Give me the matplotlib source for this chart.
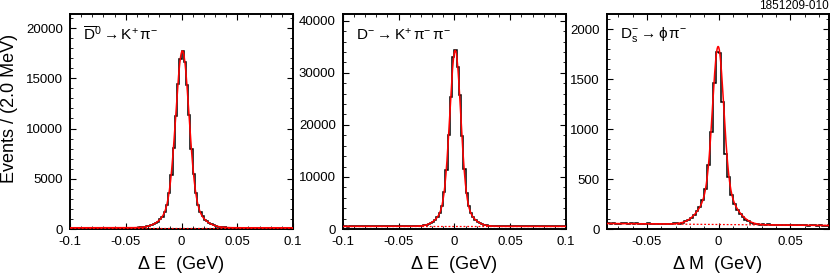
import numpy as np
import matplotlib
matplotlib.use("Agg")
import matplotlib.pyplot as plt
from matplotlib.ticker import MultipleLocator, FixedLocator, FixedFormatter

plt.rcParams['font.family'] = ['Liberation Sans', 'DejaVu Sans']
plt.rcParams['mathtext.fontset'] = 'custom'
plt.rcParams['mathtext.rm'] = 'Liberation Sans'
plt.rcParams['mathtext.it'] = 'Liberation Sans:italic'
plt.rcParams['mathtext.sf'] = 'Liberation Sans'
plt.rcParams['mathtext.fallback'] = 'stixsans'
plt.rcParams['axes.unicode_minus'] = False

# ---------------- data ----------------
# Panel 1: D0bar -> K+ pi-, Delta E, 2 MeV bins from -0.1 to 0.1
d0_range = [-0.1, 0.1]
d0_counts = [118, 125, 112, 130, 121, 127, 115, 124, 132, 119, 126, 121, 129, 117, 128,
             123, 131, 120, 126, 134, 122, 129, 127, 133, 125, 131, 128, 136, 130,
             138, 146, 152, 181, 199, 252, 296, 384, 465, 604, 741, 968, 1228, 1690,
             2370, 3610, 5400, 8110, 11200, 14480, 16950, 17700, 16600, 14300, 11350,
             7980, 5500, 3540, 2420, 1650, 1255, 940, 760, 588, 478, 369, 306, 240,
             209, 172, 158, 140, 137,
             128, 124, 131, 122, 127, 119, 126, 123, 129, 118, 125, 121, 127, 116,
             124, 120, 126, 117, 122, 119, 125, 114, 121, 118, 123, 116, 120, 117]
# fit parameters: mean, amp1, sigma1, amp2, sigma2, background at centre, bg slope
d0_fit = [0.0008, 15000, 0.0058, 2600, 0.013, 125, 0.0]

# Panel 2: D- -> K+ pi- pi-, Delta E, 2 MeV bins from -0.1 to 0.1
dp_range = [-0.1, 0.1]
dp_counts = [492, 515, 478, 508, 521, 497, 486, 512, 503, 489, 524, 498, 511, 482, 507,
             519, 494, 502, 516, 488, 509, 497, 521, 505, 493, 514, 501, 526, 508,
             512, 498, 521, 517, 548, 563, 624, 679, 806, 931, 1168, 1409, 1802, 2260,
             3080, 4390, 7040, 11350, 18050, 25300, 33100, 34300, 31200, 25650, 17800,
             11510, 6930, 4460, 3010, 2300, 1770, 1438, 1141, 952, 787, 695, 610, 576,
             534, 527, 506, 511, 499,
             504, 491, 513, 487, 508, 496, 519, 483, 502, 510, 489, 515, 495, 506,
             481, 498, 512, 490, 503, 485, 509, 494, 500, 488, 506, 492, 497, 484]
dp_fit = [0.0008, 29000, 0.0048, 4800, 0.011, 505, 0.0]

# Panel 3: Ds- -> phi pi-, Delta M, 2 MeV bins from -0.078 to 0.078
ds_range = [-0.078, 0.078]
ds_counts = [58, 54, 61, 55, 52, 59, 56, 50, 57, 53, 60, 51, 55, 49, 56, 52, 47, 54, 50,
             53, 48, 55, 51, 57, 60, 52,
             64, 77, 90, 112, 140, 176, 222, 290, 405, 640, 975, 1460, 1770, 1765,
             1270, 755, 520, 345, 248, 186, 150, 118, 95, 76, 63, 55,
             49, 44, 47, 41, 46, 43, 39, 45, 42, 38, 44, 40, 37, 43, 39, 36, 41, 38,
             34, 40, 37, 33, 39, 35, 32, 36]
ds_fit = [-0.0003, 1400, 0.0038, 380, 0.010, 45, -128.0]

panels = [
    dict(counts=d0_counts, rng=d0_range, fit=d0_fit,
         xlim=(-0.1, 0.1), ylim=(0, 21400),
         xticks=[-0.1, -0.05, 0, 0.05, 0.1], xlabels=['-0.1', '-0.05', '0', '0.05', '0.1'],
         yticks=[0, 5000, 10000, 15000, 20000], yminor=1000,
         title=r'$\overline{\mathrm{D}}^{0}\rightarrow\mathrm{K}^{+}\,\mathrm{π}^{-}$',
         xlabel='Δ E  (GeV)'),
    dict(counts=dp_counts, rng=dp_range, fit=dp_fit,
         xlim=(-0.1, 0.1), ylim=(0, 41300),
         xticks=[-0.1, -0.05, 0, 0.05, 0.1], xlabels=['-0.1', '-0.05', '0', '0.05', '0.1'],
         yticks=[0, 10000, 20000, 30000, 40000], yminor=2000,
         title=r'$\mathrm{D}^{-}\rightarrow\mathrm{K}^{+}\,\mathrm{π}^{-}\,\mathrm{π}^{-}$',
         xlabel='Δ E  (GeV)'),
    dict(counts=ds_counts, rng=ds_range, fit=ds_fit,
         xlim=(-0.078, 0.077), ylim=(0, 2150),
         xticks=[-0.05, 0, 0.05], xlabels=['-0.05', '0', '0.05'],
         yticks=[0, 500, 1000, 1500, 2000], yminor=100,
         title=r'$\mathrm{D}_{\mathrm{s}}^{-}\rightarrow\mathrm{ϕ}\,\mathrm{π}^{-}$',
         xlabel='Δ M  (GeV)'),
]

W, H = 831, 277
fig = plt.figure(figsize=(W / 100, H / 100), dpi=100)

lefts = [70, 342.7, 606.7]
rights = [293, 566, 829]
top_px, bot_px = 14, 229

for p, l, r in zip(panels, lefts, rights):
    ax = fig.add_axes([l / W, 1 - bot_px / H, (r - l) / W, (bot_px - top_px) / H])
    counts = np.array(p['counts'], dtype=float)
    edges = np.linspace(p['rng'][0], p['rng'][1], len(counts) + 1)
    ax.stairs(counts, edges, color='black', lw=1.1, zorder=2)

    m, a1, s1, a2, s2, b0, b1 = p['fit']
    x = np.linspace(p['xlim'][0], p['xlim'][1], 800)
    bg = b0 + b1 * x
    sig = a1 * np.exp(-(x - m) ** 2 / (2 * s1 ** 2)) + a2 * np.exp(-(x - m) ** 2 / (2 * s2 ** 2))
    ax.plot(x, bg, color='red', lw=0.9, ls=(0, (1.5, 1.5)), zorder=3)
    ax.plot(x, sig + bg, color='red', lw=1.1, zorder=4)

    ax.set_xlim(*p['xlim'])
    ax.set_ylim(*p['ylim'])
    ax.xaxis.set_major_locator(FixedLocator(p['xticks']))
    ax.xaxis.set_major_formatter(FixedFormatter(p['xlabels']))
    ax.xaxis.set_minor_locator(MultipleLocator(0.01))
    ax.yaxis.set_major_locator(FixedLocator(p['yticks']))
    ax.yaxis.set_minor_locator(MultipleLocator(p['yminor']))
    ax.tick_params(which='both', direction='in', top=True, right=True,
                   labelsize=9.5, colors='black')
    ax.tick_params(which='major', length=4, width=0.8)
    ax.tick_params(which='minor', length=2, width=0.6)
    ax.tick_params(axis='y', pad=5)
    ax.tick_params(axis='x', pad=5)
    for s in ax.spines.values():
        s.set_linewidth(1.4)
    ax.text(0.06, 0.905, p['title'], transform=ax.transAxes, fontsize=11,
            ha='left', va='center')
    ax.text(0.5, -0.165, p['xlabel'], transform=ax.transAxes, fontsize=13,
            ha='center', va='center')

fig.text(10 / W, 0.61, 'Events / (2.0 MeV)', rotation=90, fontsize=13,
         ha='center', va='center')
fig.text(829 / W, 1 - 6 / H, '1851209-010', fontsize=8.5, ha='right', va='center')

fig.savefig('out.png', dpi=100)
